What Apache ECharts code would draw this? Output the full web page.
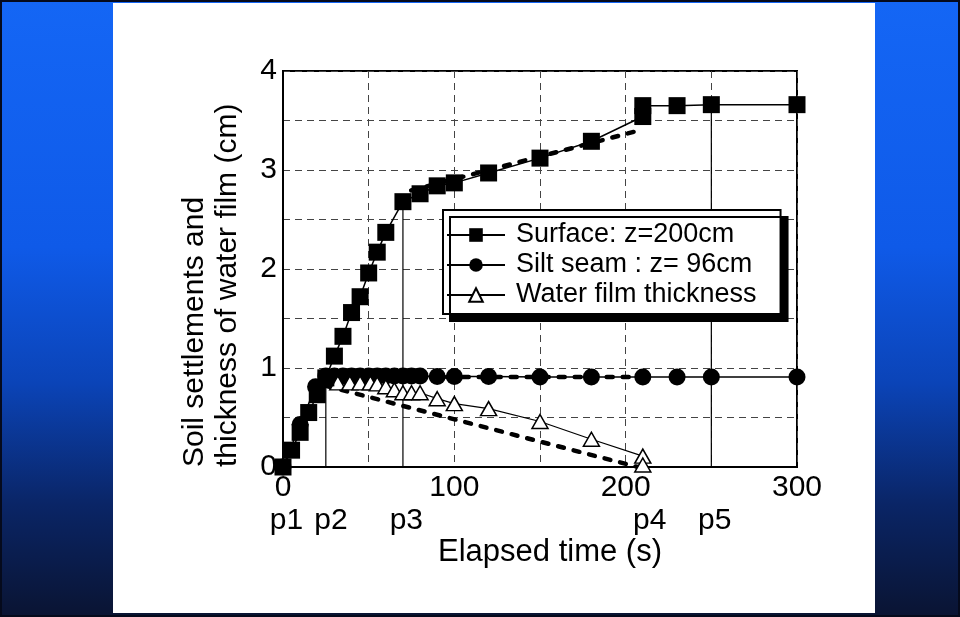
<!DOCTYPE html>
<html>
<head>
<meta charset="utf-8">
<script src="https://cdn.jsdelivr.net/npm/echarts@6/dist/echarts.min.js"></script>
<style>
  html, body { margin: 0; padding: 0; }
  .slide {
    position: relative; width: 960px; height: 617px; overflow: hidden; box-sizing: border-box;
    border: 2px solid #050a1c;
    background: linear-gradient(to bottom, #1466f5 0%, #0f5ae8 40%, #0b44b8 62%, #0a2566 82%, #0a1433 100%);
  }
  .panel {
    position: absolute; left: 111px; top: 1px; width: 762px; height: 610px; background: #fff;
  }
  #main { position: absolute; left: -2px; top: -2px; width: 960px; height: 617px; }
</style>
</head>
<body>
<div class="slide">
  <div class="panel"></div>
  <div id="main"></div>
</div>
<script>
// elapsed time (s) and settlement / thickness (cm)
const surfaceT = [0, 5, 10, 15, 20, 25, 30, 35, 40, 45, 50, 55, 60, 70, 80, 90, 100, 120, 150, 180, 210, 210, 230, 250, 300];
const surfaceV = [0, 0.17, 0.35, 0.55, 0.73, 0.9, 1.12, 1.32, 1.56, 1.72, 1.96, 2.17, 2.37, 2.68, 2.76, 2.84, 2.87, 2.97, 3.12, 3.29, 3.54, 3.65, 3.65, 3.66, 3.66];

const siltT = [0, 10, 19, 25, 30, 35, 40, 45, 50, 55, 60, 65, 70, 75, 80, 90, 100, 120, 150, 180, 210, 230, 250, 300];
const siltV = [0, 0.43, 0.81, 0.92, 0.92, 0.92, 0.92, 0.92, 0.92, 0.92, 0.92, 0.92, 0.92, 0.92, 0.92, 0.915, 0.915, 0.915, 0.91, 0.91, 0.91, 0.91, 0.91, 0.91];

const waterT = [32, 39, 45, 51, 55, 60, 65, 70, 75, 80, 90, 100, 120, 150, 180, 210, 210];
const waterV = [0.85, 0.85, 0.85, 0.85, 0.84, 0.81, 0.78, 0.75, 0.75, 0.75, 0.69, 0.64, 0.59, 0.46, 0.28, 0.11, 0.02];

// thick dashed trend lines
const surfaceFitT = [70, 74, 208];
const surfaceFitV = [2.66, 2.79, 3.40];
const siltFitT = [22, 25, 210];
const siltFitV = [0.86, 0.91, 0.91];
const waterFitT = [25, 207];
const waterFitV = [0.82, 0.0];

// stage markers
const stageT = [25, 70, 250];
const stageTop = [0.92, 2.68, 3.66];
const stageLabels = ['p1', 'p2', 'p3', 'p4', 'p5'];
const stageLabelT = [2, 28, 72, 214, 252];

const xTickLabels = [0, 100, 200, 300];
const yTickLabels = [0, 1, 2, 3, 4];

const names = ['Surface: z=200cm', 'Silt seam : z= 96cm', 'Water film thickness'];
const FONT = '"Liberation Sans", Arial, sans-serif';

const pairs = (xs, ys) => xs.map((x, i) => [x, ys[i]]);

const dashedFit = (xs, ys) => ({
  type: 'line', data: pairs(xs, ys), symbol: 'none', silent: true, z: 3,
  lineStyle: { color: '#000', width: 4.5, type: [6, 10], cap: 'round' }
});

const stageSeries = stageT.map((t, i) => ({
  type: 'line', data: [[t, 0], [t, stageTop[i]]], symbol: 'none', silent: true, z: 1,
  lineStyle: { color: '#000', width: 1.2 }
}));

const chart = echarts.init(document.getElementById('main'));
chart.setOption({
  animation: false,
  grid: { left: 283, top: 71, width: 514, height: 396, show: true, borderColor: '#000', borderWidth: 2, backgroundColor: 'transparent' },
  xAxis: [{
    type: 'value', min: 0, max: 300, interval: 50,
    axisLine: { lineStyle: { color: '#000', width: 2 } },
    axisTick: { show: false },
    splitLine: { lineStyle: { color: '#444', width: 1, type: [7, 5] } },
    axisLabel: { color: '#000', fontFamily: FONT, fontSize: 30, margin: 6, customValues: xTickLabels },
    name: 'Elapsed time (s)', nameLocation: 'middle', nameGap: 70,
    nameTextStyle: { color: '#000', fontFamily: FONT, fontSize: 31, padding: [0, 0, 0, 20] }
  }, {
    type: 'value', min: 0, max: 300, position: 'bottom', offset: 33,
    axisLine: { show: false }, axisTick: { show: false }, splitLine: { show: false },
    axisLabel: {
      color: '#000', fontFamily: FONT, fontSize: 30, margin: 6, customValues: stageLabelT,
      formatter: v => stageLabels[stageLabelT.indexOf(v)]
    }
  }],
  yAxis: {
    type: 'value', min: 0, max: 4, interval: 0.5,
    axisLine: { lineStyle: { color: '#000', width: 2 } },
    axisTick: { show: false },
    splitLine: { lineStyle: { color: '#444', width: 1, type: [7, 5] } },
    axisLabel: { color: '#000', fontFamily: FONT, fontSize: 30, margin: 6, customValues: yTickLabels }
  },
  legend: {
    orient: 'vertical', left: 443, top: 210, itemWidth: 58, itemHeight: 17, itemGap: 0,
    padding: [10, 24, 4, 3], backgroundColor: '#fff', borderColor: '#000', borderWidth: 2,
    shadowColor: '#000', shadowOffsetX: 7, shadowOffsetY: 7, shadowBlur: 0.01,
    textStyle: { color: '#000', fontFamily: FONT, fontSize: 27, lineHeight: 30, padding: [0, 0, 0, 6] },
    data: names, selectedMode: false, z: 20
  },
  graphic: [{
    type: 'text', x: 178, y: 467, rotation: Math.PI / 2, z: 10,
    style: {
      text: 'Soil settlements and\nthickness of water film (cm)',
      fill: '#000', font: '30px ' + FONT, lineHeight: 33,
      textAlign: 'left', textVerticalAlign: 'top', align: 'left', verticalAlign: 'top'
    }
  }],
  series: [
    ...stageSeries,
    dashedFit(surfaceFitT, surfaceFitV),
    dashedFit(siltFitT, siltFitV),
    dashedFit(waterFitT, waterFitV),
    {
      name: names[0], type: 'line', data: pairs(surfaceT, surfaceV), z: 5,
      symbol: 'rect', symbolSize: 17,
      itemStyle: { color: '#000' }, lineStyle: { color: '#000', width: 1.5 }
    },
    {
      name: names[1], type: 'line', data: pairs(siltT, siltV), z: 4,
      symbol: 'circle', symbolSize: 17,
      itemStyle: { color: '#000' }, lineStyle: { color: '#000', width: 1.5 }
    },
    {
      name: names[2], type: 'line', data: pairs(waterT, waterV), z: 4,
      symbol: 'triangle', symbolSize: [16, 14],
      itemStyle: { color: '#fff', borderColor: '#000', borderWidth: 1.5 },
      lineStyle: { color: '#000', width: 1.2 }
    }
  ]
});
</script>
</body>
</html>
